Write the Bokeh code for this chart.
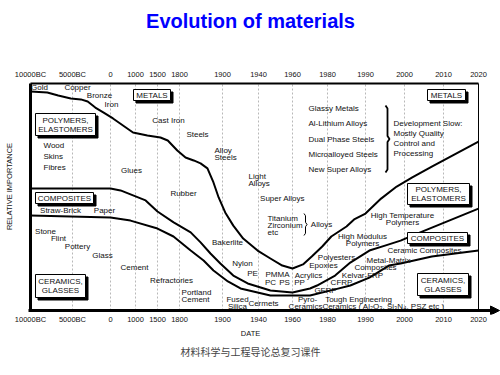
import numpy as np
from bokeh.plotting import figure
from bokeh.models import Range1d, LinearAxis, FixedTicker, Title, Arrow, NormalHead
from bokeh.core.properties import value
from bokeh.embed import file_html
from bokeh.resources import INLINE

# ---------------- data ----------------
tick_years = [-10000, -5000, 0, 1000, 1500, 1800, 1900, 1940, 1960, 1980, 1990, 2000, 2010, 2020]
tick_labels = ["10000BC", "5000BC", "0", "1000", "1500", "1800", "1900",
               "1940", "1960", "1980", "1990", "2000", "2010", "2020"]

# boundary metals / polymers
mp_years = [-10000, -8000, -6700, -5200, -3900, -3000, -2000, -900, 100, 500, 900, 1270, 1540,
            1640, 1770, 1814, 1833, 1849, 1865, 1879, 1891, 1903, 1912, 1923, 1939, 1947, 1954,
            1960, 1966, 1971, 1977, 1981, 1985, 1987, 1990, 1994, 1998, 2002, 2007, 2020]
mp_imp = [96.5, 96.0, 94.7, 93.4, 93.0, 92.1, 89.4, 87.2, 84.6, 81.5, 78.4, 77.1, 76.2,
          74.9, 70.5, 67.4, 66.1, 64.8, 62.6, 56.4, 49.8, 43.2, 37.4, 31.7, 26.4, 22.9, 19.8,
          18.5, 20.3, 23.8, 28.2, 32.6, 37.0, 40.1, 42.7, 49.3, 54.6, 58.6, 63.4, 74.4]

# boundary polymers / composites
pc_years = [-10000, -5000, 0, 400, 1230, 1500, 1720, 1826, 1849, 1872, 1895, 1912, 1928, 1947,
            1960, 1970, 1974, 1982, 1986, 1991, 1995, 1999, 2002, 2020]
pc_imp = [53.7, 53.7, 53.7, 52.9, 48.5, 43.6, 38.8, 34.4, 30.0, 25.1, 20.7, 15.4, 11.9, 8.8,
          7.9, 9.7, 11.0, 15.4, 21.1, 26.4, 28.6, 30.8, 33.0, 44.9]

# boundary composites / ceramics
cc_years = [-10000, 0, 800, 1500, 1718, 1826, 1856, 1879, 1906, 1920, 1947, 1970, 1982, 1986,
            1991, 1996, 1999, 2007, 2020]
cc_imp = [41.9, 41.0, 39.6, 36.1, 32.6, 26.4, 22.0, 17.6, 12.8, 9.7, 6.6, 6.6, 9.3, 11.0,
          14.5, 19.8, 20.7, 23.8, 26.4]

# ---------------- layout ----------------
W, H = 500, 375
FRAME_TOP, FRAME_BOTTOM = 80, 314
IMP0_PX, IMP100_PX = 310, 83
PPU = (IMP0_PX - IMP100_PX) / 100.0
tick_px = [30, 72, 110, 135, 157, 179, 222, 258, 292, 327, 365, 404, 443, 478]
FONT = "Liberation Sans"


def ty(py):
    return (IMP0_PX - py) / PPU


def xpos(years):
    return np.interp(years, tick_years, tick_px)


p = figure(width=W, height=H, output_backend="svg", toolbar_location=None,
           x_range=Range1d(0, W), y_range=Range1d(ty(FRAME_BOTTOM), ty(FRAME_TOP)),
           x_axis_location=None, y_axis_location=None,
           min_border_left=0, min_border_right=0,
           min_border_top=FRAME_TOP, min_border_bottom=H - FRAME_BOTTOM)
p.outline_line_color = None
p.grid.visible = False
p.background_fill_color = "white"
p.border_fill_color = "white"
p.title.text = ""

overrides = {t: lab for t, lab in zip(tick_px, tick_labels)}
for loc, stand in (("above", 2), ("below", 0)):
    ax = LinearAxis(ticker=FixedTicker(ticks=tick_px), major_label_overrides=overrides)
    ax.axis_line_color = None
    ax.major_tick_line_color = None
    ax.minor_tick_line_color = None
    ax.major_tick_out = 0
    ax.major_tick_in = 0
    ax.major_label_standoff = stand
    ax.major_label_text_font = FONT
    ax.major_label_text_font_size = "7.5px"
    ax.major_label_text_color = "#111111"
    p.add_layout(ax, loc)

# spacer + title above the top date axis
p.add_layout(Title(text=" ", standoff=20, text_font=FONT, text_font_size="10px"), "above")
p.add_layout(Title(text="Evolution of materials", align="center", standoff=4, text_font=FONT,
                   text_font_size="20px", text_font_style="bold", text_color="#0000ff"),
             "above")

# texts below the bottom date axis
p.add_layout(Title(text="DATE", align="center", offset=-12, standoff=1, text_font=FONT,
                   text_font_size="7.5px", text_font_style="normal", text_color="#111111"),
             "below")
p.add_layout(Title(text="材料科学与工程导论总复习课件", align="center", standoff=7,
                   text_font="Noto Sans CJK SC", text_font_size="10px",
                   text_font_style="normal", text_color="#444444"), "below")

# dotted date grid
gx = tick_px[1:-1]
p.segment(x0=gx, y0=[0] * len(gx), x1=gx, y1=[100] * len(gx),
          line_color="#b8b8b8", line_width=1, line_dash="2 2")

# frame lines
p.line([tick_px[0], tick_px[-1]], [100, 100], line_color="black", line_width=2)
p.line([tick_px[-1], tick_px[-1]], [0, 100], line_color="black", line_width=1)
p.line([tick_px[0], tick_px[0]], [ty(311.5), 100], line_color="black", line_width=3)
p.add_layout(Arrow(end=NormalHead(size=9, fill_color="black", line_color="black"),
                   x_start=28, y_start=0, x_end=499, y_end=0,
                   line_color="black", line_width=3))

# boundary curves
for yrs, imp in ((mp_years, mp_imp), (pc_years, pc_imp), (cc_years, cc_imp)):
    p.line(xpos(yrs), imp, line_color="black", line_width=2, line_join="round")

# class boxes with drop shadow
boxes = [
    (["METALS"], 133, 170, 89, 100),
    (["METALS"], 427, 465, 89, 100),
    (["POLYMERS,", "ELASTOMERS"], 35, 95, 113, 135),
    (["POLYMERS,", "ELASTOMERS"], 407, 469, 183, 204),
    (["COMPOSITES"], 35, 93, 192, 203),
    (["COMPOSITES"], 407, 467, 232, 243),
    (["CERAMICS,", "GLASSES"], 35, 85, 274, 297),
    (["CERAMICS,", "GLASSES"], 417, 468, 273, 295),
]
SH = 2.5
p.quad(left=[b[1] + SH for b in boxes], right=[b[2] + SH for b in boxes],
       top=[ty(b[3] + SH) for b in boxes], bottom=[ty(b[4] + SH) for b in boxes],
       fill_color="black", line_color="black")
p.quad(left=[b[1] for b in boxes], right=[b[2] for b in boxes],
       top=[ty(b[3]) for b in boxes], bottom=[ty(b[4]) for b in boxes],
       fill_color="white", line_color="black", line_width=1)
bx, by, bt = [], [], []
for lines, x0, x1, y0, y1 in boxes:
    cx, cy = (x0 + x1) / 2, (y0 + y1) / 2
    n = len(lines)
    for i, t in enumerate(lines):
        bx.append(cx)
        by.append(ty(cy + (i - (n - 1) / 2) * 9))
        bt.append(t)
p.text(x=bx, y=by, text=bt, text_font=value(FONT), text_font_size=value("8px"),
       text_align="center", text_baseline="middle", text_color="#111111")

# material labels (centre aligned)
center_labels = [
    ("Gold", 39, 87), ("Copper", 77, 87), ("Bronze", 99, 95), ("Iron", 111, 104),
    ("Cast Iron", 168, 120), ("Steels", 197, 134),
    ("Glues", 131, 170), ("Rubber", 183, 193),
    ("Straw-Brick", 60, 210), ("Paper", 104, 210),
    ("Stone", 45, 231), ("Flint", 58, 238), ("Pottery", 77, 246), ("Glass", 102, 255),
    ("Cement", 134, 267), ("Refractories", 171, 280),
    ("Portland", 196, 292), ("Cement", 195, 299),
    ("Bakerlite", 227, 242), ("Nylon", 242, 263), ("PE", 252, 273),
    ("PMMA", 277, 274), ("Acrylics", 308, 275),
    ("PC", 270, 282), ("PS", 284, 282), ("PP", 299, 282),
    ("Fused", 237, 299), ("Silica", 237, 306), ("Cermets", 263, 303),
    ("Pyro-", 307, 299), ("Ceramics", 305, 306),
    ("Tough Engineering", 358, 299),
    ("Ceramics ( Al\u2082O\u2083, Si\u2083N\u2084, PSZ etc )", 383, 306),
    ("Super Alloys", 282, 198), ("Alloys", 321, 224),
    ("High Temperature", 402, 215), ("Polymers", 402, 222),
    ("High Modulus", 362, 236), ("Polymers", 362, 243),
    ("Polyesters", 336, 257), ("Epoxies", 323, 265),
    ("Ceramic Composites", 424, 250),
    ("Metal-Matrix", 388, 260), ("Composites", 375, 267),
    ("Kelvar-FRP", 362, 275), ("CFRP", 341, 282), ("GFRP", 325, 290),
]
p.text(x=[l[1] for l in center_labels], y=[ty(l[2]) for l in center_labels],
       text=[l[0] for l in center_labels], text_font=value(FONT), text_font_size=value("8px"),
       text_align="center", text_baseline="middle", text_color="#111111")

# material labels (left aligned)
left_labels = [
    ("Alloy", 214, 150), ("Steels", 214, 157),
    ("Wood", 43, 145), ("Skins", 43, 156), ("Fibres", 43, 167),
    ("Light", 248, 176), ("Alloys", 248, 183),
    ("Titanium", 267, 218), ("Zirconium", 267, 225), ("etc", 267, 232),
    ("Glassy Metals", 308, 108), ("Al-Lithium Alloys", 308, 123),
    ("Dual Phase Steels", 308, 139), ("Microalloyed Steels", 308, 154),
    ("New Super Alloys", 308, 169),
    ("Development Slow:", 393, 123), ("Mostly Quality", 393, 133),
    ("Control and", 393, 143), ("Processing", 393, 153),
]
p.text(x=[l[1] for l in left_labels], y=[ty(l[2]) for l in left_labels],
       text=[l[0] for l in left_labels], text_font=value(FONT), text_font_size=value("8px"),
       text_align="left", text_baseline="middle", text_color="#111111")


# braces
def brace(x, ytop, ybot, d):
    ym = (ytop + ybot) / 2
    xs = [x - d, x, x, x + d, x, x, x - d]
    ys = [ytop, ytop + 1.5 * d, ym - 1.5 * d, ym, ym + 1.5 * d, ybot - 1.5 * d, ybot]
    return xs, [ty(v) for v in ys]


xs, ys = brace(387, 105, 172, 2)
p.line(xs, ys, line_color="black", line_width=1.8)
xs, ys = brace(305, 213, 235, 1.5)
p.line(xs, ys, line_color="black", line_width=1)

# vertical axis title
p.text(x=[9], y=[ty(186)], text=["RELATIVE IMPORTANCE"], angle=np.pi / 2,
       text_font=value(FONT), text_font_size=value("7.5px"),
       text_align="center", text_baseline="middle", text_color="#111111")

open("out.html", "w").write(file_html(p, INLINE))
